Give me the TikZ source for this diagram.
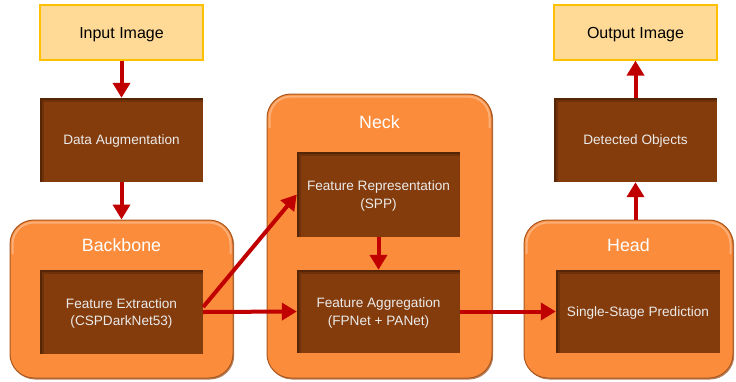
\documentclass[tikz,border=0pt]{standalone}
\usepackage{fontspec}
\setmainfont{Liberation Sans}
\usetikzlibrary{arrows.meta}
\usetikzlibrary{shadows}
\usetikzlibrary{math}

\definecolor{grporange}{RGB}{250,140,60}
\definecolor{grpedge}{RGB}{150,75,25}
\definecolor{boxbrown}{RGB}{132,60,12}
\definecolor{boxshade}{RGB}{70,30,5}
\definecolor{iofill}{RGB}{255,218,150}
\definecolor{ioedge}{RGB}{255,192,0}
\definecolor{arrowred}{RGB}{192,0,0}

\tikzset{
  iobox/.style={draw=ioedge, line width=1.2pt, fill=iofill, text=black,
    minimum width=163pt, minimum height=55pt, inner sep=0pt, text depth=0pt,
    font=\fontsize{16}{19}\selectfont},
  stagebox/.style={fill=boxbrown, text=white!92!black, align=center,
    minimum width=163pt, minimum height=84pt, inner sep=0pt, text depth=0pt,
    font=\fontsize{13.6}{17.5}\selectfont,
    path picture={
      \draw[boxshade, line width=7pt, opacity=.35]
        (path picture bounding box.south west) -- (path picture bounding box.north west)
        -- (path picture bounding box.north east);
      \draw[boxshade, line width=3pt, opacity=.6]
        (path picture bounding box.south west) -- (path picture bounding box.north west)
        -- (path picture bounding box.north east);
    }},
  groupbox/.style={fill=grporange, draw=grpedge!80!grporange, line width=1pt,
    rounded corners=24pt, inner sep=0pt,
    drop shadow={shadow xshift=1.2pt, shadow yshift=-1.5pt, fill=grpedge, opacity=.7},
    path picture={
      \draw[white, opacity=.3, line width=2pt, rounded corners=21.5pt]
        ([shift={(2.5pt,-34pt)}]path picture bounding box.north west)
        -- ([shift={(2.5pt,-2.5pt)}]path picture bounding box.north west)
        -- ([shift={(-2.5pt,-2.5pt)}]path picture bounding box.north east)
        -- ([shift={(-2.5pt,-34pt)}]path picture bounding box.north east);
    }},
  grouptitle/.style={text=white, font=\fontsize{17.8}{21}\selectfont, inner sep=0pt},
  flow/.style={draw=arrowred, line width=4pt,
    -{Triangle[length=15pt, width=17pt]}},
}

\begin{document}
\begin{tikzpicture}[x=1pt, y=-1pt]
  \tikzmath{
    \lx = 121.5;
    \mx = 378.5;
    \rx = 635.5;
  }
  \useasboundingbox (0,0) rectangle (736,381);

  % groups
  \node[groupbox, minimum width=223pt, minimum height=158pt] (backbone) at (\lx, 299) {};
  \node[groupbox, minimum width=225pt, minimum height=284pt] (neck) at (379.5, 236) {};
  \node[groupbox, minimum width=209pt, minimum height=158pt] (head) at (628.5, 299) {};
  \node[grouptitle] (backbonetitle) at ([yshift=-26pt]backbone.north) {Backbone};
  \node[grouptitle] (necktitle) at ([yshift=-29pt]neck.north) {Neck};
  \node[grouptitle] (headtitle) at ([yshift=-26pt]head.north) {Head};

  % input / output
  \node[iobox] (input) at (\lx, 32.5) {Input Image};
  \node[iobox] (output) at (\rx, 32.5) {Output Image};

  % stages
  \node[stagebox] (augment) at (\lx, 140) {Data Augmentation};
  \node[stagebox] (extract) at (\lx, 312) {Feature Extraction\\(CSPDarkNet53)};
  \node[stagebox, minimum height=85pt] (represent) at (\mx, 194.5) {Feature Representation\\(SPP)};
  \node[stagebox, minimum height=83pt] (aggregate) at (\mx, 311.5) {Feature Aggregation\\(FPNet + PANet)};
  \node[stagebox, minimum width=164pt, minimum height=83pt] (predict) at (638, 311.5) {Single-Stage Prediction};
  \node[stagebox] (detected) at (\rx, 140) {Detected Objects};

  % arrows
  \draw[flow] (input) -- (augment);
  \draw[flow] (augment) -- (backbone);
  \draw[flow] ([yshift=5pt]extract.east) -- (represent.west);
  \draw[flow] (extract.east) -- (aggregate.west);
  \draw[flow] (represent) -- (aggregate);
  \draw[flow] (aggregate.east) -- (predict.west);
  \draw[flow] (head.north -| detected.south) -- (detected.south);
  \draw[flow] (detected) -- (output);
\end{tikzpicture}
\end{document}
